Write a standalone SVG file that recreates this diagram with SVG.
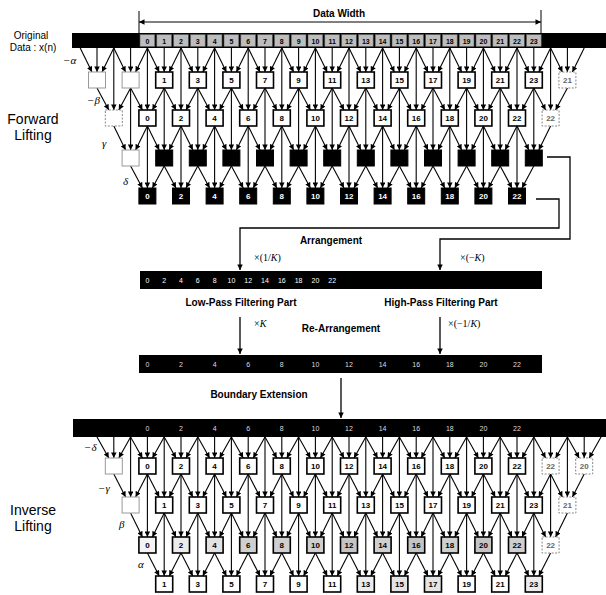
<svg xmlns="http://www.w3.org/2000/svg" xmlns:xlink="http://www.w3.org/1999/xlink" width="606" height="595" viewBox="0 0 606 595">
<style>
.b{fill:#fff;stroke:#000;stroke-width:1.6}
.bl{fill:#fff;stroke:#999;stroke-width:1}
.ds{fill:#fff;stroke:#888;stroke-width:1;stroke-dasharray:2 1.5}
.k{fill:#000;stroke:#000;stroke-width:1}
.t{font-family:"Liberation Sans",Arial,sans-serif;font-size:8px;font-weight:bold;text-anchor:middle;fill:#000}
.t.w{fill:#fff}
.t.dt{fill:#666}
.c{font-family:"Liberation Sans",Arial,sans-serif;font-size:7px;font-weight:bold;text-anchor:middle;fill:#000}
.c.cw{fill:#fff;font-weight:normal}
.c.cd{fill:#ddd;font-weight:normal}
.lab{font-family:"Liberation Sans",Arial,sans-serif;font-size:10px;fill:#000}
.lab.bd{font-weight:bold}
.big{font-family:"Liberation Sans",Arial,sans-serif;font-size:14px;fill:#000;text-anchor:middle}
.gk{font-family:"Liberation Serif","Times New Roman",serif;font-size:11px;font-style:italic;fill:#000}
.mul{font-family:"Liberation Serif","Times New Roman",serif;font-size:10px;fill:#000}
.cell{fill:#bdbdbd;stroke:#555;stroke-width:0.6}
.bar{fill:#000}
.cn{fill:none;stroke:#000;stroke-width:1.3}
</style>
<defs>
<marker id="ah" viewBox="0 0 6 6" refX="6" refY="3" markerWidth="6" markerHeight="5.5" markerUnits="userSpaceOnUse" orient="auto-start-reverse"><path d="M0,0 L6,3 L0,6 z" fill="#000"/></marker>
<g id="F1" stroke="#000" stroke-width="1.1" marker-end="url(#ah)"><line x1="-16.8" y1="48" x2="-5" y2="72"/><line x1="0" y1="48" x2="0" y2="72"/><line x1="16.8" y1="48" x2="5" y2="72"/></g>
<g id="F2" stroke="#000" stroke-width="1.1" marker-end="url(#ah)"><line x1="-16.8" y1="88" x2="-5" y2="110"/><line x1="0" y1="48" x2="0" y2="110"/><line x1="16.8" y1="88" x2="5" y2="110"/></g>
<g id="F3" stroke="#000" stroke-width="1.1" marker-end="url(#ah)"><line x1="-16.8" y1="126" x2="-5" y2="150"/><line x1="0" y1="88" x2="0" y2="150"/><line x1="16.8" y1="126" x2="5" y2="150"/></g>
<g id="F4" stroke="#000" stroke-width="1.1" marker-end="url(#ah)"><line x1="-16.8" y1="166" x2="-5" y2="188"/><line x1="0" y1="126" x2="0" y2="188"/><line x1="16.8" y1="166" x2="5" y2="188"/></g>
<g id="FA" stroke="#000" stroke-width="1.1" marker-end="url(#ah)"><line x1="-16.8" y1="437" x2="-5" y2="458"/><line x1="0" y1="437" x2="0" y2="458"/><line x1="16.8" y1="437" x2="5" y2="458"/></g>
<g id="FB" stroke="#000" stroke-width="1.1" marker-end="url(#ah)"><line x1="-16.8" y1="474" x2="-5" y2="497"/><line x1="0" y1="437" x2="0" y2="497"/><line x1="16.8" y1="474" x2="5" y2="497"/></g>
<g id="FC" stroke="#000" stroke-width="1.1" marker-end="url(#ah)"><line x1="-16.8" y1="513" x2="-5" y2="537"/><line x1="0" y1="474" x2="0" y2="537"/><line x1="16.8" y1="513" x2="5" y2="537"/></g>
<g id="FD" stroke="#000" stroke-width="1.1" marker-end="url(#ah)"><line x1="-16.8" y1="553" x2="-5" y2="576"/><line x1="0" y1="513" x2="0" y2="576"/><line x1="16.8" y1="553" x2="5" y2="576"/></g>
</defs>
<rect width="606" height="595" fill="#fff"/>

<!-- labels -->
<g id="labels">
<text class="lab" x="31" y="39" text-anchor="middle">Original</text>
<text class="lab" x="33" y="51" text-anchor="middle">Data : x(n)</text>
<text class="lab bd" x="339" y="17" text-anchor="middle">Data Width</text>
<text class="big" x="33" y="124">Forward</text>
<text class="big" x="33" y="140">Lifting</text>
<text class="big" x="33" y="515">Inverse</text>
<text class="big" x="33" y="531">Lifting</text>
<text class="gk" x="63" y="64">−α</text>
<text class="gk" x="87" y="104">−β</text>
<text class="gk" x="102" y="147">γ</text>
<text class="gk" x="123" y="185">δ</text>
<text class="gk" x="84" y="451">−δ</text>
<text class="gk" x="98" y="492">−γ</text>
<text class="gk" x="119" y="528">β</text>
<text class="gk" x="138" y="568">α</text>
<text class="lab bd" x="331" y="244" text-anchor="middle">Arrangement</text>
<text class="mul" x="254" y="261">×(1/<tspan font-style="italic">K</tspan>)</text>
<text class="mul" x="460" y="261">×(−<tspan font-style="italic">K</tspan>)</text>
<text class="lab bd" x="241" y="306" text-anchor="middle">Low-Pass Filtering Part</text>
<text class="lab bd" x="441" y="306" text-anchor="middle">High-Pass Filtering Part</text>
<text class="mul" x="254" y="327">×<tspan font-style="italic">K</tspan></text>
<text class="lab bd" x="341" y="332" text-anchor="middle" font-size="10.5">Re-Arrangement</text>
<text class="mul" x="448" y="327">×(−1/<tspan font-style="italic">K</tspan>)</text>
<text class="lab bd" x="259" y="398" text-anchor="middle">Boundary Extension</text>
</g>

<!-- bars -->
<g id="bar_input">
<rect class="bar" x="72" y="33" width="534" height="15"/>
<rect class="cell" x="140" y="34.5" width="14.8" height="12"/><rect class="cell" x="156.8" y="34.5" width="14.8" height="12"/><rect class="cell" x="173.6" y="34.5" width="14.8" height="12"/><rect class="cell" x="190.4" y="34.5" width="14.8" height="12"/><rect class="cell" x="207.2" y="34.5" width="14.8" height="12"/><rect class="cell" x="224" y="34.5" width="14.8" height="12"/><rect class="cell" x="240.8" y="34.5" width="14.8" height="12"/><rect class="cell" x="257.6" y="34.5" width="14.8" height="12"/><rect class="cell" x="274.4" y="34.5" width="14.8" height="12"/><rect class="cell" x="291.2" y="34.5" width="14.8" height="12"/><rect class="cell" x="308" y="34.5" width="14.8" height="12"/><rect class="cell" x="324.8" y="34.5" width="14.8" height="12"/><rect class="cell" x="341.6" y="34.5" width="14.8" height="12"/><rect class="cell" x="358.4" y="34.5" width="14.8" height="12"/><rect class="cell" x="375.2" y="34.5" width="14.8" height="12"/><rect class="cell" x="392" y="34.5" width="14.8" height="12"/><rect class="cell" x="408.8" y="34.5" width="14.8" height="12"/><rect class="cell" x="425.6" y="34.5" width="14.8" height="12"/><rect class="cell" x="442.4" y="34.5" width="14.8" height="12"/><rect class="cell" x="459.2" y="34.5" width="14.8" height="12"/><rect class="cell" x="476" y="34.5" width="14.8" height="12"/><rect class="cell" x="492.8" y="34.5" width="14.8" height="12"/><rect class="cell" x="509.6" y="34.5" width="14.8" height="12"/><rect class="cell" x="526.4" y="34.5" width="14.8" height="12"/>
<text class="c" y="43.5"><tspan x="147.4">0</tspan><tspan x="164.2">1</tspan><tspan x="181">2</tspan><tspan x="197.8">3</tspan><tspan x="214.6">4</tspan><tspan x="231.4">5</tspan><tspan x="248.2">6</tspan><tspan x="265">7</tspan><tspan x="281.8">8</tspan><tspan x="298.6">9</tspan><tspan x="315.4">10</tspan><tspan x="332.2">11</tspan><tspan x="349">12</tspan><tspan x="365.8">13</tspan><tspan x="382.6">14</tspan><tspan x="399.4">15</tspan><tspan x="416.2">16</tspan><tspan x="433">17</tspan><tspan x="449.8">18</tspan><tspan x="466.6">19</tspan><tspan x="483.4">20</tspan><tspan x="500.2">21</tspan><tspan x="517">22</tspan><tspan x="533.8">23</tspan></text>
</g>
<g id="bar_arranged">
<rect class="bar" x="140" y="271" width="402" height="18"/>
<text class="c cw" y="283"><tspan x="147.4">0</tspan><tspan x="164.2">2</tspan><tspan x="181">4</tspan><tspan x="197.8">6</tspan><tspan x="214.6">8</tspan><tspan x="231.4">10</tspan><tspan x="248.2">12</tspan><tspan x="265">14</tspan><tspan x="281.8">16</tspan><tspan x="298.6">18</tspan><tspan x="315.4">20</tspan><tspan x="332.2">22</tspan></text>
</g>
<g id="bar_rearranged">
<rect class="bar" x="139" y="355" width="403" height="18"/>
<text class="c cd" y="367"><tspan x="147.4">0</tspan><tspan x="181">2</tspan><tspan x="214.6">4</tspan><tspan x="248.2">6</tspan><tspan x="281.8">8</tspan><tspan x="315.4">10</tspan><tspan x="349">12</tspan><tspan x="382.6">14</tspan><tspan x="416.2">16</tspan><tspan x="449.8">18</tspan><tspan x="483.4">20</tspan><tspan x="517">22</tspan></text>
</g>
<g id="bar_extended">
<rect class="bar" x="73" y="419" width="533" height="18"/>
<text class="c cd" y="431"><tspan x="147.4">0</tspan><tspan x="181">2</tspan><tspan x="214.6">4</tspan><tspan x="248.2">6</tspan><tspan x="281.8">8</tspan><tspan x="315.4">10</tspan><tspan x="349">12</tspan><tspan x="382.6">14</tspan><tspan x="416.2">16</tspan><tspan x="449.8">18</tspan><tspan x="483.4">20</tspan><tspan x="517">22</tspan></text>
</g>

<!-- connectors -->
<g id="connectors">
<line x1="139" y1="11" x2="139" y2="33" stroke="#000" stroke-width="1"/>
<line x1="541" y1="10" x2="541" y2="33" stroke="#000" stroke-width="1"/>
<line x1="139" y1="22" x2="541" y2="22" stroke="#000" stroke-width="1" marker-start="url(#ah)" marker-end="url(#ah)"/>
<use href="#F1" x="97"/><use href="#F1" x="130.6"/><use href="#F1" x="164.2"/><use href="#F1" x="197.8"/><use href="#F1" x="231.4"/><use href="#F1" x="265"/><use href="#F1" x="298.6"/><use href="#F1" x="332.2"/><use href="#F1" x="365.8"/><use href="#F1" x="399.4"/><use href="#F1" x="433"/><use href="#F1" x="466.6"/><use href="#F1" x="500.2"/><use href="#F1" x="533.8"/><use href="#F1" x="567.4"/>
<use href="#F2" x="113.8"/><use href="#F2" x="147.4"/><use href="#F2" x="181"/><use href="#F2" x="214.6"/><use href="#F2" x="248.2"/><use href="#F2" x="281.8"/><use href="#F2" x="315.4"/><use href="#F2" x="349"/><use href="#F2" x="382.6"/><use href="#F2" x="416.2"/><use href="#F2" x="449.8"/><use href="#F2" x="483.4"/><use href="#F2" x="517"/><use href="#F2" x="550.6"/>
<use href="#F3" x="130.6"/><use href="#F3" x="164.2"/><use href="#F3" x="197.8"/><use href="#F3" x="231.4"/><use href="#F3" x="265"/><use href="#F3" x="298.6"/><use href="#F3" x="332.2"/><use href="#F3" x="365.8"/><use href="#F3" x="399.4"/><use href="#F3" x="433"/><use href="#F3" x="466.6"/><use href="#F3" x="500.2"/><use href="#F3" x="533.8"/>
<use href="#F4" x="147.4"/><use href="#F4" x="181"/><use href="#F4" x="214.6"/><use href="#F4" x="248.2"/><use href="#F4" x="281.8"/><use href="#F4" x="315.4"/><use href="#F4" x="349"/><use href="#F4" x="382.6"/><use href="#F4" x="416.2"/><use href="#F4" x="449.8"/><use href="#F4" x="483.4"/><use href="#F4" x="517"/>
<path class="cn" d="M536,199 H559 V228 H240 V270" marker-end="url(#ah)"/>
<path class="cn" d="M547,157 H570 V239 H440 V270" marker-end="url(#ah)"/>
<path class="cn" d="M240,317 V354" marker-end="url(#ah)"/>
<path class="cn" d="M440,317 V354" marker-end="url(#ah)"/>
<path class="cn" d="M341,378 V418" marker-end="url(#ah)"/>
<use href="#FA" x="113.8"/><use href="#FA" x="147.4"/><use href="#FA" x="181"/><use href="#FA" x="214.6"/><use href="#FA" x="248.2"/><use href="#FA" x="281.8"/><use href="#FA" x="315.4"/><use href="#FA" x="349"/><use href="#FA" x="382.6"/><use href="#FA" x="416.2"/><use href="#FA" x="449.8"/><use href="#FA" x="483.4"/><use href="#FA" x="517"/><use href="#FA" x="550.6"/><use href="#FA" x="584.2"/>
<use href="#FB" x="130.6"/><use href="#FB" x="164.2"/><use href="#FB" x="197.8"/><use href="#FB" x="231.4"/><use href="#FB" x="265"/><use href="#FB" x="298.6"/><use href="#FB" x="332.2"/><use href="#FB" x="365.8"/><use href="#FB" x="399.4"/><use href="#FB" x="433"/><use href="#FB" x="466.6"/><use href="#FB" x="500.2"/><use href="#FB" x="533.8"/><use href="#FB" x="567.4"/>
<use href="#FC" x="147.4"/><use href="#FC" x="181"/><use href="#FC" x="214.6"/><use href="#FC" x="248.2"/><use href="#FC" x="281.8"/><use href="#FC" x="315.4"/><use href="#FC" x="349"/><use href="#FC" x="382.6"/><use href="#FC" x="416.2"/><use href="#FC" x="449.8"/><use href="#FC" x="483.4"/><use href="#FC" x="517"/><use href="#FC" x="550.6"/>
<use href="#FD" x="164.2"/><use href="#FD" x="197.8"/><use href="#FD" x="231.4"/><use href="#FD" x="265"/><use href="#FD" x="298.6"/><use href="#FD" x="332.2"/><use href="#FD" x="365.8"/><use href="#FD" x="399.4"/><use href="#FD" x="433"/><use href="#FD" x="466.6"/><use href="#FD" x="500.2"/><use href="#FD" x="533.8"/>
</g>

<!-- forward row 1 -->
<g id="f1_m3"><rect class="bl" x="88.5" y="72" width="17" height="16"/></g>
<g id="f1_m1"><rect class="bl" x="122.1" y="72" width="17" height="16"/></g>
<g id="f1_1"><rect class="b" x="155.7" y="72" width="17" height="16"/><text class="t" x="164.2" y="83">1</text></g>
<g id="f1_3"><rect class="b" x="189.3" y="72" width="17" height="16"/><text class="t" x="197.8" y="83">3</text></g>
<g id="f1_5"><rect class="b" x="222.9" y="72" width="17" height="16"/><text class="t" x="231.4" y="83">5</text></g>
<g id="f1_7"><rect class="b" x="256.5" y="72" width="17" height="16"/><text class="t" x="265" y="83">7</text></g>
<g id="f1_9"><rect class="b" x="290.1" y="72" width="17" height="16"/><text class="t" x="298.6" y="83">9</text></g>
<g id="f1_11"><rect class="b" x="323.7" y="72" width="17" height="16"/><text class="t" x="332.2" y="83">11</text></g>
<g id="f1_13"><rect class="b" x="357.3" y="72" width="17" height="16"/><text class="t" x="365.8" y="83">13</text></g>
<g id="f1_15"><rect class="b" x="390.9" y="72" width="17" height="16"/><text class="t" x="399.4" y="83">15</text></g>
<g id="f1_17"><rect class="b" x="424.5" y="72" width="17" height="16"/><text class="t" x="433" y="83">17</text></g>
<g id="f1_19"><rect class="b" x="458.1" y="72" width="17" height="16"/><text class="t" x="466.6" y="83">19</text></g>
<g id="f1_21"><rect class="b" x="491.7" y="72" width="17" height="16"/><text class="t" x="500.2" y="83">21</text></g>
<g id="f1_23"><rect class="b" x="525.3" y="72" width="17" height="16"/><text class="t" x="533.8" y="83">23</text></g>
<g id="f1_25"><rect class="ds" x="558.9" y="72" width="17" height="16"/><text class="t dt" x="567.4" y="83">21</text></g>

<!-- forward row 2 -->
<g id="f2_m2"><rect class="ds" x="105.3" y="110" width="17" height="16"/></g>
<g id="f2_0"><rect class="b" x="138.9" y="110" width="17" height="16"/><text class="t" x="147.4" y="121">0</text></g>
<g id="f2_2"><rect class="b" x="172.5" y="110" width="17" height="16"/><text class="t" x="181" y="121">2</text></g>
<g id="f2_4"><rect class="b" x="206.1" y="110" width="17" height="16"/><text class="t" x="214.6" y="121">4</text></g>
<g id="f2_6"><rect class="b" x="239.7" y="110" width="17" height="16"/><text class="t" x="248.2" y="121">6</text></g>
<g id="f2_8"><rect class="b" x="273.3" y="110" width="17" height="16"/><text class="t" x="281.8" y="121">8</text></g>
<g id="f2_10"><rect class="b" x="306.9" y="110" width="17" height="16"/><text class="t" x="315.4" y="121">10</text></g>
<g id="f2_12"><rect class="b" x="340.5" y="110" width="17" height="16"/><text class="t" x="349" y="121">12</text></g>
<g id="f2_14"><rect class="b" x="374.1" y="110" width="17" height="16"/><text class="t" x="382.6" y="121">14</text></g>
<g id="f2_16"><rect class="b" x="407.7" y="110" width="17" height="16"/><text class="t" x="416.2" y="121">16</text></g>
<g id="f2_18"><rect class="b" x="441.3" y="110" width="17" height="16"/><text class="t" x="449.8" y="121">18</text></g>
<g id="f2_20"><rect class="b" x="474.9" y="110" width="17" height="16"/><text class="t" x="483.4" y="121">20</text></g>
<g id="f2_22"><rect class="b" x="508.5" y="110" width="17" height="16"/><text class="t" x="517" y="121">22</text></g>
<g id="f2_24"><rect class="ds" x="542.1" y="110" width="17" height="16"/><text class="t dt" x="550.6" y="121">22</text></g>

<!-- forward row 3 -->
<g id="f3_m1"><rect class="bl" x="122.1" y="150" width="17" height="16"/></g>
<g id="f3_1"><rect class="k" x="155.7" y="150" width="17" height="16"/></g>
<g id="f3_3"><rect class="k" x="189.3" y="150" width="17" height="16"/></g>
<g id="f3_5"><rect class="k" x="222.9" y="150" width="17" height="16"/></g>
<g id="f3_7"><rect class="k" x="256.5" y="150" width="17" height="16"/></g>
<g id="f3_9"><rect class="k" x="290.1" y="150" width="17" height="16"/></g>
<g id="f3_11"><rect class="k" x="323.7" y="150" width="17" height="16"/></g>
<g id="f3_13"><rect class="k" x="357.3" y="150" width="17" height="16"/></g>
<g id="f3_15"><rect class="k" x="390.9" y="150" width="17" height="16"/></g>
<g id="f3_17"><rect class="k" x="424.5" y="150" width="17" height="16"/></g>
<g id="f3_19"><rect class="k" x="458.1" y="150" width="17" height="16"/></g>
<g id="f3_21"><rect class="k" x="491.7" y="150" width="17" height="16"/></g>
<g id="f3_23"><rect class="k" x="525.3" y="150" width="17" height="16"/></g>

<!-- forward row 4 -->
<g id="f4_0"><rect class="k" x="138.9" y="188" width="17" height="16"/><text class="t w" x="147.4" y="199">0</text></g>
<g id="f4_2"><rect class="k" x="172.5" y="188" width="17" height="16"/><text class="t w" x="181" y="199">2</text></g>
<g id="f4_4"><rect class="k" x="206.1" y="188" width="17" height="16"/><text class="t w" x="214.6" y="199">4</text></g>
<g id="f4_6"><rect class="k" x="239.7" y="188" width="17" height="16"/><text class="t w" x="248.2" y="199">6</text></g>
<g id="f4_8"><rect class="k" x="273.3" y="188" width="17" height="16"/><text class="t w" x="281.8" y="199">8</text></g>
<g id="f4_10"><rect class="k" x="306.9" y="188" width="17" height="16"/><text class="t w" x="315.4" y="199">10</text></g>
<g id="f4_12"><rect class="k" x="340.5" y="188" width="17" height="16"/><text class="t w" x="349" y="199">12</text></g>
<g id="f4_14"><rect class="k" x="374.1" y="188" width="17" height="16"/><text class="t w" x="382.6" y="199">14</text></g>
<g id="f4_16"><rect class="k" x="407.7" y="188" width="17" height="16"/><text class="t w" x="416.2" y="199">16</text></g>
<g id="f4_18"><rect class="k" x="441.3" y="188" width="17" height="16"/><text class="t w" x="449.8" y="199">18</text></g>
<g id="f4_20"><rect class="k" x="474.9" y="188" width="17" height="16"/><text class="t w" x="483.4" y="199">20</text></g>
<g id="f4_22"><rect class="k" x="508.5" y="188" width="17" height="16"/><text class="t w" x="517" y="199">22</text></g>

<!-- inverse row A -->
<g id="iA_m2"><rect class="bl" x="105.3" y="458" width="17" height="16"/></g>
<g id="iA_0"><rect class="b" x="138.9" y="458" width="17" height="16"/><text class="t" x="147.4" y="469">0</text></g>
<g id="iA_2"><rect class="b" x="172.5" y="458" width="17" height="16"/><text class="t" x="181" y="469">2</text></g>
<g id="iA_4"><rect class="b" x="206.1" y="458" width="17" height="16"/><text class="t" x="214.6" y="469">4</text></g>
<g id="iA_6"><rect class="b" x="239.7" y="458" width="17" height="16"/><text class="t" x="248.2" y="469">6</text></g>
<g id="iA_8"><rect class="b" x="273.3" y="458" width="17" height="16"/><text class="t" x="281.8" y="469">8</text></g>
<g id="iA_10"><rect class="b" x="306.9" y="458" width="17" height="16"/><text class="t" x="315.4" y="469">10</text></g>
<g id="iA_12"><rect class="b" x="340.5" y="458" width="17" height="16"/><text class="t" x="349" y="469">12</text></g>
<g id="iA_14"><rect class="b" x="374.1" y="458" width="17" height="16"/><text class="t" x="382.6" y="469">14</text></g>
<g id="iA_16"><rect class="b" x="407.7" y="458" width="17" height="16"/><text class="t" x="416.2" y="469">16</text></g>
<g id="iA_18"><rect class="b" x="441.3" y="458" width="17" height="16"/><text class="t" x="449.8" y="469">18</text></g>
<g id="iA_20"><rect class="b" x="474.9" y="458" width="17" height="16"/><text class="t" x="483.4" y="469">20</text></g>
<g id="iA_22"><rect class="b" x="508.5" y="458" width="17" height="16"/><text class="t" x="517" y="469">22</text></g>
<g id="iA_24"><rect class="ds" x="542.1" y="458" width="17" height="16"/><text class="t dt" x="550.6" y="469">22</text></g>
<g id="iA_26"><rect class="ds" x="575.7" y="458" width="17" height="16"/><text class="t dt" x="584.2" y="469">20</text></g>

<!-- inverse row B -->
<g id="iB_m1"><rect class="bl" x="122.1" y="497" width="17" height="16"/></g>
<g id="iB_1"><rect class="b" x="155.7" y="497" width="17" height="16"/><text class="t" x="164.2" y="508">1</text></g>
<g id="iB_3"><rect class="b" x="189.3" y="497" width="17" height="16"/><text class="t" x="197.8" y="508">3</text></g>
<g id="iB_5"><rect class="b" x="222.9" y="497" width="17" height="16"/><text class="t" x="231.4" y="508">5</text></g>
<g id="iB_7"><rect class="b" x="256.5" y="497" width="17" height="16"/><text class="t" x="265" y="508">7</text></g>
<g id="iB_9"><rect class="b" x="290.1" y="497" width="17" height="16"/><text class="t" x="298.6" y="508">9</text></g>
<g id="iB_11"><rect class="b" x="323.7" y="497" width="17" height="16"/><text class="t" x="332.2" y="508">11</text></g>
<g id="iB_13"><rect class="b" x="357.3" y="497" width="17" height="16"/><text class="t" x="365.8" y="508">13</text></g>
<g id="iB_15"><rect class="b" x="390.9" y="497" width="17" height="16"/><text class="t" x="399.4" y="508">15</text></g>
<g id="iB_17"><rect class="b" x="424.5" y="497" width="17" height="16"/><text class="t" x="433" y="508">17</text></g>
<g id="iB_19"><rect class="b" x="458.1" y="497" width="17" height="16"/><text class="t" x="466.6" y="508">19</text></g>
<g id="iB_21"><rect class="b" x="491.7" y="497" width="17" height="16"/><text class="t" x="500.2" y="508">21</text></g>
<g id="iB_23"><rect class="b" x="525.3" y="497" width="17" height="16"/><text class="t" x="533.8" y="508">23</text></g>
<g id="iB_25"><rect class="ds" x="558.9" y="497" width="17" height="16"/><text class="t dt" x="567.4" y="508">21</text></g>

<!-- inverse row C -->
<g id="iC_0"><rect class="b" x="138.9" y="537" width="17" height="16" style="fill:#f4f4f4"/><text class="t" x="147.4" y="548">0</text></g>
<g id="iC_2"><rect class="b" x="172.5" y="537" width="17" height="16" style="fill:#ececec"/><text class="t" x="181" y="548">2</text></g>
<g id="iC_4"><rect class="b" x="206.1" y="537" width="17" height="16" style="fill:#e2e2e2"/><text class="t" x="214.6" y="548">4</text></g>
<g id="iC_6"><rect class="b" x="239.7" y="537" width="17" height="16" style="fill:#cfcfcf"/><text class="t" x="248.2" y="548">6</text></g>
<g id="iC_8"><rect class="b" x="273.3" y="537" width="17" height="16" style="fill:#cfcfcf"/><text class="t" x="281.8" y="548">8</text></g>
<g id="iC_10"><rect class="b" x="306.9" y="537" width="17" height="16" style="fill:#cfcfcf"/><text class="t" x="315.4" y="548">10</text></g>
<g id="iC_12"><rect class="b" x="340.5" y="537" width="17" height="16" style="fill:#c4c4c4"/><text class="t" x="349" y="548">12</text></g>
<g id="iC_14"><rect class="b" x="374.1" y="537" width="17" height="16" style="fill:#cfcfcf"/><text class="t" x="382.6" y="548">14</text></g>
<g id="iC_16"><rect class="b" x="407.7" y="537" width="17" height="16" style="fill:#c4c4c4"/><text class="t" x="416.2" y="548">16</text></g>
<g id="iC_18"><rect class="b" x="441.3" y="537" width="17" height="16" style="fill:#cfcfcf"/><text class="t" x="449.8" y="548">18</text></g>
<g id="iC_20"><rect class="b" x="474.9" y="537" width="17" height="16" style="fill:#c4c4c4"/><text class="t" x="483.4" y="548">20</text></g>
<g id="iC_22"><rect class="b" x="508.5" y="537" width="17" height="16" style="fill:#cfcfcf"/><text class="t" x="517" y="548">22</text></g>
<g id="iC_24"><rect class="ds" x="542.1" y="537" width="17" height="16"/><text class="t dt" x="550.6" y="548">22</text></g>

<!-- inverse row D -->
<g id="iD_1"><rect class="b" x="155.7" y="576" width="17" height="16"/><text class="t" x="164.2" y="587">1</text></g>
<g id="iD_3"><rect class="b" x="189.3" y="576" width="17" height="16"/><text class="t" x="197.8" y="587">3</text></g>
<g id="iD_5"><rect class="b" x="222.9" y="576" width="17" height="16"/><text class="t" x="231.4" y="587">5</text></g>
<g id="iD_7"><rect class="b" x="256.5" y="576" width="17" height="16"/><text class="t" x="265" y="587">7</text></g>
<g id="iD_9"><rect class="b" x="290.1" y="576" width="17" height="16"/><text class="t" x="298.6" y="587">9</text></g>
<g id="iD_11"><rect class="b" x="323.7" y="576" width="17" height="16"/><text class="t" x="332.2" y="587">11</text></g>
<g id="iD_13"><rect class="b" x="357.3" y="576" width="17" height="16" style="fill:#ececec"/><text class="t" x="365.8" y="587">13</text></g>
<g id="iD_15"><rect class="b" x="390.9" y="576" width="17" height="16" style="fill:#e4e4e4"/><text class="t" x="399.4" y="587">15</text></g>
<g id="iD_17"><rect class="b" x="424.5" y="576" width="17" height="16" style="fill:#e4e4e4"/><text class="t" x="433" y="587">17</text></g>
<g id="iD_19"><rect class="b" x="458.1" y="576" width="17" height="16"/><text class="t" x="466.6" y="587">19</text></g>
<g id="iD_21"><rect class="b" x="491.7" y="576" width="17" height="16"/><text class="t" x="500.2" y="587">21</text></g>
<g id="iD_23"><rect class="b" x="525.3" y="576" width="17" height="16" style="fill:#ececec"/><text class="t" x="533.8" y="587">23</text></g>
</svg>
